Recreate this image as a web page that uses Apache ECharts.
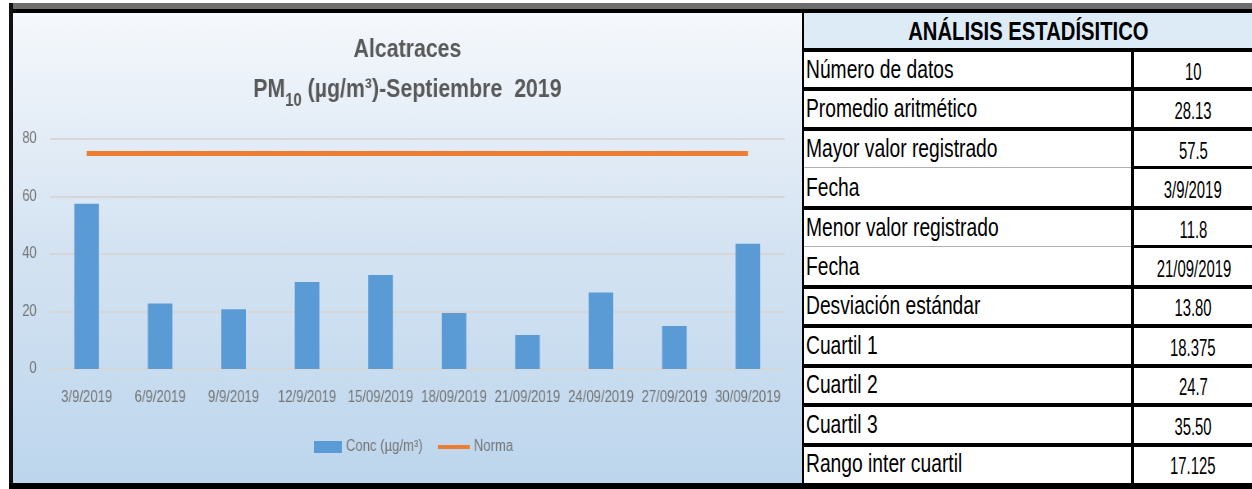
<!DOCTYPE html>
<html>
<head>
<meta charset="utf-8">
<script src="https://cdn.jsdelivr.net/npm/echarts@6/dist/echarts.min.js"></script>
<style>
  body { margin: 0; width: 1252px; height: 489px; background: #fff; position: relative; overflow: hidden;
         font-family: 'Liberation Sans', Arial, sans-serif; }
  .blk { position: absolute; }
  /* el grafico se dibuja mas ancho y se comprime en horizontal, como en la imagen original */
  #chart { position: absolute; left: 13px; top: 13px; width: 962px; height: 470px;
           transform: scaleX(0.82); transform-origin: 0 0; }
  #tabla { position: absolute; left: 802px; top: 13px; width: 450px; height: 470px; background: #fff; }
  .cell { position: absolute; color: #000; white-space: nowrap; }
  .cell span { display: inline-block; }
  .lab { font-size: 25px; left: 4px; }
  .lab span { transform: scaleX(0.77); transform-origin: 0 50%; }
  .val { font-size: 24px; width: 118px; left: 332px; text-align: center; }
  .val span { transform: scaleX(0.62); transform-origin: 50% 50%; }
  .tit span { transform: scaleX(0.81); transform-origin: 50% 50%; }
</style>
</head>
<body>
<div class="blk" style="left:9px;top:3px;width:1243px;height:6px;background:#6e6e6e"></div>
<div class="blk" style="left:9px;top:9px;width:1243px;height:4px;background:#000"></div>
<div class="blk" style="left:9px;top:3px;width:4px;height:486px;background:#111"></div>
<div class="blk" style="left:9px;top:483px;width:1243px;height:6px;background:#000"></div>
<div id="chart"></div>
<div id="tabla"></div>
<script>
var fechas = ['3/9/2019', '6/9/2019', '9/9/2019', '12/9/2019', '15/09/2019', '18/09/2019',
  '21/09/2019', '24/09/2019', '27/09/2019', '30/09/2019'];
var conc = [57.5, 22.8, 20.8, 30.3, 32.7, 19.5, 11.8, 26.6, 15.0, 43.6];
var norma = [75, 75, 75, 75, 75, 75, 75, 75, 75, 75];
var yTicks = [0, 20, 40, 60, 80];

var tituloTabla = 'ANÁLISIS ESTADÍSITICO';
var statLabels = ['Número de datos', 'Promedio aritmético', 'Mayor valor registrado', 'Fecha',
  'Menor valor registrado', 'Fecha', 'Desviación estándar', 'Cuartil 1', 'Cuartil 2', 'Cuartil 3',
  'Rango inter cuartil'];
var statValues = ['10', '28.13', '57.5', '3/9/2019', '11.8', '21/09/2019', '13.80', '18.375',
  '24.7', '35.50', '17.125'];

var fuente = "'Liberation Sans', Arial, sans-serif";
var gris = '#767676';

// grafico
var chart = echarts.init(document.getElementById('chart'));
var option = {
  backgroundColor: new echarts.graphic.LinearGradient(0, 0, 0, 1, [
    { offset: 0, color: '#f5f8fc' },
    { offset: 0.5, color: '#d4e3f2' },
    { offset: 1, color: '#bdd6ed' }
  ]),
  animation: false,
  title: [{
    text: 'Alcatraces',
    left: 'center',
    top: 19,
    textStyle: { fontFamily: fuente, fontSize: 26, fontWeight: 'bold', color: '#595959' }
  }, {
    text: '{a|PM}{s|10}{a| (µg/m³)-Septiembre  2019}',
    left: 'center',
    top: 59,
    textStyle: {
      rich: {
        a: { fontFamily: fuente, fontSize: 26, fontWeight: 'bold', color: '#595959', verticalAlign: 'top', lineHeight: 33 },
        s: { fontFamily: fuente, fontSize: 18, fontWeight: 'bold', color: '#595959', verticalAlign: 'bottom', lineHeight: 33 }
      }
    }
  }],
  legend: [{
    top: 421,
    left: 362,
    itemWidth: 34,
    itemHeight: 12,
    textStyle: { fontFamily: fuente, fontSize: 16, color: gris },
    data: [{ name: 'Conc (µg/m³)', icon: 'rect' }]
  }, {
    top: 421,
    left: 513,
    itemWidth: 39,
    itemHeight: 4,
    textStyle: { fontFamily: fuente, fontSize: 16, color: gris },
    data: [{ name: 'Norma', icon: 'rect' }]
  }],
  grid: { left: 45, right: 21, top: 126, bottom: 114 },
  xAxis: {
    type: 'category',
    data: fechas,
    axisLine: { lineStyle: { color: '#d6d6d6', width: 2 } },
    axisTick: { show: false },
    axisLabel: { interval: 0, margin: 21, fontFamily: fuente, fontSize: 16, color: gris }
  },
  yAxis: {
    type: 'value',
    min: yTicks[0],
    max: yTicks[yTicks.length - 1],
    interval: 20,
    axisLine: { show: false },
    axisTick: { show: false },
    axisLabel: { margin: 16, fontFamily: fuente, fontSize: 16, color: gris },
    splitLine: { lineStyle: { color: '#d6d6d6', width: 2 } }
  },
  series: [{
    name: 'Conc (µg/m³)',
    type: 'bar',
    data: conc,
    barWidth: 30,
    itemStyle: { color: '#5b9bd5' }
  }, {
    name: 'Norma',
    type: 'line',
    data: norma,
    symbol: 'none',
    lineStyle: { color: '#ed7d31', width: 5 },
    itemStyle: { color: '#ed7d31' }
  }]
};
chart.setOption(option);

// tabla de estadisticos
var tabla = document.getElementById('tabla');
var html = '<div class="blk" style="left:0;top:0;width:2px;height:470px;background:#000"></div>';
html += '<div class="blk" style="left:2px;top:0;width:448px;height:36px;background:#ddebf7"></div>';
html += '<div class="cell tit" style="left:2px;width:448px;top:1px;text-align:center;font-weight:bold;font-size:25px;line-height:34px"><span>' + tituloTabla + '</span></div>';
var alto = 39.45;
for (var i = 0; i < statLabels.length; i++) {
  var y = Math.round(36 + i * alto);
  if (statLabels[i] === 'Fecha') {
    html += '<div class="blk" style="left:2px;top:' + y + 'px;width:328px;height:1px;background:#b0b0b0"></div>';
    html += '<div class="blk" style="left:330px;top:' + (y - 1) + 'px;width:120px;height:3px;background:#000"></div>';
  } else {
    html += '<div class="blk" style="left:0;top:' + (y - 1) + 'px;width:450px;height:4px;background:#000"></div>';
  }
  var cy = Math.round(36 + (i + 0.5) * alto);
  html += '<div class="cell lab" style="top:' + (cy - 15) + 'px;line-height:30px"><span>' + statLabels[i] + '</span></div>';
  html += '<div class="cell val" style="top:' + (cy - 12) + 'px;line-height:30px"><span>' + statValues[i] + '</span></div>';
}
html += '<div class="blk" style="left:329px;top:36px;width:3px;height:434px;background:#000"></div>';
tabla.innerHTML = html;
</script>
</body>
</html>
